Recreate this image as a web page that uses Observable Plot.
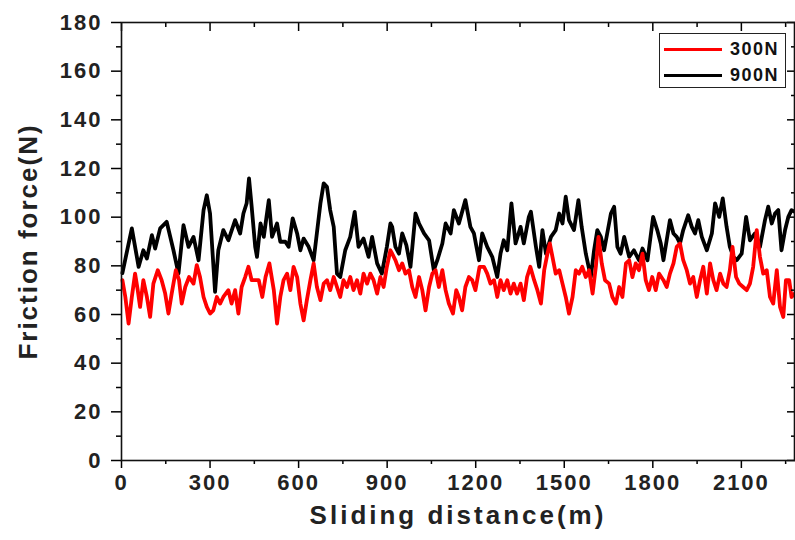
<!DOCTYPE html>
<html>
<head>
<meta charset="utf-8">
<script src="https://cdn.jsdelivr.net/npm/d3@7"></script>
<script src="https://cdn.jsdelivr.net/npm/@observablehq/plot@0.6"></script>
<style>
  body { margin: 0; background: #fff; }
  #wrap { position: relative; width: 795px; height: 540px; font-family: "Liberation Sans", Arial, sans-serif; }
  #legend { position: absolute; left: 659px; top: 33px; width: 127px; height: 55px; border: 1px solid #222; background: #fff; box-sizing: border-box; }
  .row { position: absolute; left: 0; height: 20px; display: flex; align-items: center; }
  .sw { width: 58px; height: 3px; margin-left: 4px; margin-right: 8px; }
  .lb { font-weight: bold; font-size: 18px; letter-spacing: 1.5px; color: #111; }
</style>
</head>
<body>
<div id="wrap">
  <div id="chart"></div>
  <div id="legend">
    <div class="row" style="top:5px"><div class="sw" style="background:#ff0000"></div><span class="lb">300N</span></div>
    <div class="row" style="top:31px"><div class="sw" style="background:#000"></div><span class="lb">900N</span></div>
  </div>
</div>
<script>
const seriesNames = ["300N", "900N"];
const seriesColors = ["#ff0000", "#000000"];
const xTicks = [0, 300, 600, 900, 1200, 1500, 1800, 2100];
const yTicks = [0, 20, 40, 60, 80, 100, 120, 140, 160, 180];

// 900N (black)
const d900 = [3,35,58,74,86,103,114,131,153,176,193,210,227,244,261,278,289,300,317,328,345,362,385,402,413,424,432,441,453,459,471,482,499,510,527,538,555,566,580,595,606,617,634,651,674,685,696,707,719,730,741,758,775,790,803,820,837,849,866,882,899,911,917,928,940,951,965,979,996,1008,1025,1042,1058,1070,1087,1098,1115,1126,1143,1165,1182,1194,1211,1222,1239,1256,1273,1284,1295,1307,1321,1335,1352,1363,1380,1387,1404,1415,1426,1438,1455,1471,1483,1494,1505,1516,1533,1548,1559,1573,1590,1601,1612,1624,1635,1658,1669,1680,1691,1703,1720,1736,1753,1765,1782,1801,1815,1827,1836,1847,1858,1870,1881,1892,1903,1920,1932,1943,1954,1966,1983,2000,2011,2025,2037,2050,2061,2073,2084,2101,2116,2129,2146,2163,2180,2191,2203,2214,2225,2236,2248,2259,2270,2281];
const f900 = [77,95.4,79.6,86.4,83,92.6,87.1,95.4,98.1,86.4,76.8,96.7,87.8,91.9,82.3,102.9,109,101.5,69.3,86.4,94.7,90.5,98.8,93.3,101.5,105.7,115.9,104.3,87.8,83.7,97.4,91.9,107,91.9,97.4,89.9,89.9,87.8,99.5,93.3,86.4,91.2,87.8,82.3,105.7,113.9,112.5,102.9,96,76.8,75.4,86.4,91.9,102.2,87.8,91.2,83.7,91.9,81,76.8,87.8,97.4,96,87.8,85,93.3,88.5,79.6,101.5,97.4,93.3,90.5,78.2,82.3,89.2,97.4,93.3,102.9,97.4,107,96,93.3,82.3,93.3,87.8,83.7,75.4,85,90.5,86.4,105.7,89.2,96,89.2,100.1,102.2,87.8,79.6,94.7,85,91.9,94.7,101.5,97.4,108.4,98.8,94.7,107,96,85,75.4,86.4,94.7,91.9,86.4,101.5,104.3,87.8,85,91.9,83.7,86.4,82.3,87.1,82.3,100.1,94.7,89.2,82.3,90.5,98.8,93.3,91.9,89.2,94.7,100.8,96,93.3,98.8,91.9,86.4,93.3,105.7,100.1,107.7,96,87.8,83.7,82.3,85,100.1,90.5,93.3,87.8,98.8,104.3,97.4,101.5,102.9,86.4,94.7,100.1,102.9,102.2];

// 300N (red)
const d300 = [3,13,24,35,46,55,63,74,86,97,108,123,136,148,159,170,184,195,204,216,229,244,255,266,278,289,300,311,323,334,345,362,373,385,396,407,419,430,441,
  465,477,488,501,516,527,538,549,561,572,583,595,606,617,628,640,651,662,674,685,696,707,719,730,741,752,764,775,786,798,809,820,832,843,854,866,877,888,899,911,
  917,928,940,951,962,974,985,996,1008,1019,1030,1042,1053,1064,1075,1087,1098,1109,1123,1134,1143,1154,1165,1177,1188,1199,1213,1228,1239,1250,1262,1273,1284,1295,1307,1318,1329,1340,1352,1363,1374,1385,
  1398,1409,1421,1432,1443,1451,1460,1471,1483,1494,1505,1516,1528,1539,1550,1561,1573,1584,1596,1607,1616,1627,1638,1652,1663,1675,1686,1697,1709,1720,1731,1742,1753,1765,1776,1787,1798,1810,1821,
  1836,1847,1858,1870,1881,1892,1903,1915,1926,1937,1949,1960,1971,1983,1994,2005,2016,2028,2039,2050,2061,2070,2082,2093,2106,2118,2129,2140,2152,2163,2174,2186,2197,2208,2220,2231,2242,2251,2262,2270,2281];
const f300 = [74.1,67.2,56.3,67.2,76.8,70,63.1,74.1,67.2,59,72.7,78.2,74.1,68.6,60.4,68.6,78.2,74.1,64.5,71.3,75.4,72.7,80.3,75.4,67.2,63.1,60.4,61.7,67.2,64.5,67.2,70,64.5,70,60.4,71.3,75.4,79.6,74.1,
  74.1,67.2,75.4,81,70,56.3,67.2,74.1,76.8,70,79.6,75.4,64.5,57.6,65.9,74.1,81,71.3,65.9,72.7,74.1,70,75.4,71.3,67.2,74.1,71.3,75.4,70,74.1,68.6,76.8,72.7,76.8,74.1,68.6,75.4,71.3,79.6,86.4,
  85,82.3,78.2,81,76.8,78.2,71.3,67.2,75.4,70,61.7,71.3,76.8,78.2,71.3,78.2,70,64.5,60.4,70,67.2,61.7,71.3,75.4,74.1,70,79.6,79.6,76.8,72.7,74.1,67.2,74.1,70,74.1,68.6,72.7,68.6,72.7,65.9,75.4,79.6,
  74.1,70,64.5,78.2,85,89.2,83.7,76.8,78.2,72.7,67.2,60.4,67.2,78.2,76.8,79.6,75.4,78.2,68.6,79.6,91.9,81,74.1,72.7,67.2,64.5,71.3,67.2,81,82.3,75.4,81,78.2,85,74.1,70,75.4,70,76.8,
  74.1,71.3,76.8,81,87.8,89.2,82.3,78.2,72.7,75.4,67.2,74.1,79.6,68.6,81,74.1,70,76.8,72.7,71.3,78.2,87.8,75.4,72.7,71.3,70,72.7,79.6,94.7,83.7,76.8,78.2,67.2,64.5,78.2,63.1,59,74.1,74.1,67.2,68.6];

const rows900 = d900.map((d, i) => ({x: d, y: f900[i]}));
const rows300 = d300.map((d, i) => ({x: d, y: f300[i]}));

const xMinor = d3.range(150, 2281, 300);
const yMinor = d3.range(10, 180, 20);
const tickFont = {fontSize: 22, fontWeight: "bold", fill: "#222", tickFormat: d3.format("d")};

const chart = Plot.plot({
  width: 795,
  height: 540,
  marginLeft: 121,
  marginRight: 1,
  marginTop: 22,
  marginBottom: 80,
  style: {fontFamily: "'Liberation Sans', Arial, sans-serif", background: "white", overflow: "visible"},
  x: {domain: [0, 2280]},
  y: {domain: [0, 180]},
  marks: [
    Plot.line(rows900, {x: "x", y: "y", stroke: seriesColors[1], strokeWidth: 3.8, strokeLinejoin: "round"}),
    Plot.line(rows300, {x: "x", y: "y", stroke: seriesColors[0], strokeWidth: 3.8, strokeLinejoin: "round"}),
    Plot.axisX({ticks: xTicks, tickSize: 8, tickPadding: 6, label: null, strokeWidth: 1.5, ...tickFont}),
    Plot.axisX({ticks: xMinor, tickSize: 4, text: null, label: null, strokeWidth: 1.5}),
    Plot.axisY({ticks: yTicks, tickSize: 10, tickPadding: 9, label: null, strokeWidth: 1.5, ...tickFont}),
    Plot.axisY({ticks: yMinor, tickSize: 5, text: null, label: null, strokeWidth: 1.5}),
    Plot.axisX({anchor: "top", ticks: xTicks, tickSize: -8, text: null, label: null, strokeWidth: 1.5}),
    Plot.axisX({anchor: "top", ticks: xMinor, tickSize: -4, text: null, label: null, strokeWidth: 1.5}),
    Plot.axisY({anchor: "right", ticks: yTicks, tickSize: -8, text: null, label: null, strokeWidth: 1.5}),
    Plot.axisY({anchor: "right", ticks: yMinor, tickSize: -4, text: null, label: null, strokeWidth: 1.5}),
    Plot.frame({stroke: "#111", strokeWidth: 1.6}),
    Plot.text(["Sliding distance(m)"], {frameAnchor: "bottom", dy: 63, fontSize: 26, fontWeight: "bold", fill: "#222"}),
    Plot.text(["Friction force(N)"], {frameAnchor: "left", textAnchor: "middle", dx: -93, rotate: -90, fontSize: 26, fontWeight: "bold", fill: "#222"})
  ]
});
d3.select(chart).selectAll("text").style("letter-spacing", "2px");
d3.select(chart).selectAll("text").filter(function() { return this.textContent === "Sliding distance(m)"; }).style("letter-spacing", "3px");
document.getElementById("chart").appendChild(chart);
</script>
</body>
</html>
